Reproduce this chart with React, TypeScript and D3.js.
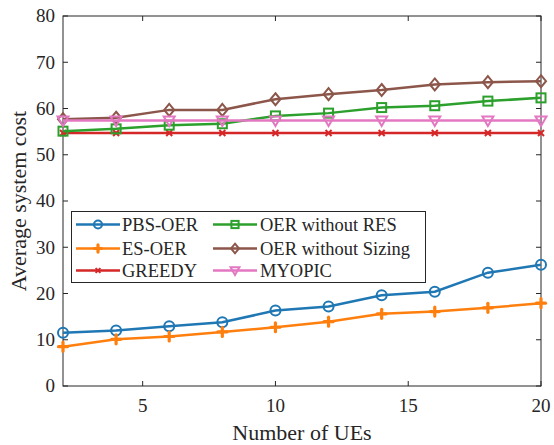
import React from "react";
import * as d3 from "d3";

const xs = [2, 4, 6, 8, 10, 12, 14, 16, 18, 20];
const pbsOer = [11.5, 12.0, 12.9, 13.8, 16.3, 17.2, 19.6, 20.4, 24.5, 26.2];
const esOer = [8.5, 10.1, 10.7, 11.7, 12.7, 13.9, 15.6, 16.1, 16.9, 17.9];
const greedy = [54.7, 54.7, 54.7, 54.7, 54.7, 54.7, 54.7, 54.7, 54.7, 54.7];
const oerNoRes = [55.1, 55.6, 56.4, 56.7, 58.4, 59.0, 60.2, 60.6, 61.6, 62.3];
const oerNoSizing = [57.7, 58.0, 59.7, 59.7, 62.0, 63.1, 64.0, 65.2, 65.7, 65.9];
const myopic = [57.4, 57.4, 57.4, 57.4, 57.4, 57.4, 57.4, 57.4, 57.4, 57.4];
const xTicks = [5, 10, 15, 20];
const yTicks = [0, 10, 20, 30, 40, 50, 60, 70, 80];

type Marker = "circle" | "plus" | "x" | "square" | "diamond" | "tri";
const series: { name: string; values: number[]; color: string; marker: Marker }[] = [
  { name: "PBS-OER", values: pbsOer, color: "#1f77b4", marker: "circle" },
  { name: "ES-OER", values: esOer, color: "#ff7f0e", marker: "plus" },
  { name: "GREEDY", values: greedy, color: "#d62728", marker: "x" },
  { name: "OER without RES", values: oerNoRes, color: "#2ca02c", marker: "square" },
  { name: "OER without Sizing", values: oerNoSizing, color: "#8c564b", marker: "diamond" },
  { name: "MYOPIC", values: myopic, color: "#e377c2", marker: "tri" },
];

function MarkerShape({ m, x, y, color, s = 1 }: { m: Marker; x: number; y: number; color: string; s?: number }) {
  const sw = 2;
  switch (m) {
    case "circle":
      return <circle cx={x} cy={y} r={5 * s} fill="none" stroke={color} strokeWidth={sw} />;
    case "plus":
      return (
        <g stroke={color} strokeWidth={3.2} strokeLinecap="round">
          <line x1={x - 4.5 * s} y1={y} x2={x + 4.5 * s} y2={y} />
          <line x1={x} y1={y - 4.5 * s} x2={x} y2={y + 4.5 * s} />
        </g>
      );
    case "x":
      return (
        <g stroke={color} strokeWidth={2}>
          <line x1={x - 3 * s} y1={y - 3 * s} x2={x + 3 * s} y2={y + 3 * s} />
          <line x1={x - 3 * s} y1={y + 3 * s} x2={x + 3 * s} y2={y - 3 * s} />
        </g>
      );
    case "square":
      return <rect x={x - 4.5 * s} y={y - 4.5 * s} width={9 * s} height={9 * s} fill="none" stroke={color} strokeWidth={sw} />;
    case "diamond":
      return (
        <path
          d={`M${x},${y - 6 * s}L${x + 5 * s},${y}L${x},${y + 6 * s}L${x - 5 * s},${y}Z`}
          fill="none"
          stroke={color}
          strokeWidth={sw}
        />
      );
    case "tri":
      return (
        <path
          d={`M${x - 5.5 * s},${y - 4 * s}L${x + 5.5 * s},${y - 4 * s}L${x},${y + 5.5 * s}Z`}
          fill="none"
          stroke={color}
          strokeWidth={sw}
        />
      );
  }
}

export default function App() {
  const W = 554, H = 445;
  const left = 63, right = 541, top = 16, bottom = 386;
  const x = d3.scaleLinear().domain([2, 20]).range([left, right]);
  const y = d3.scaleLinear().domain([0, 80]).range([bottom, top]);
  const line = d3
    .line<number>()
    .x((_, i) => x(xs[i]))
    .y((d) => y(d));
  const font = "'Liberation Serif', 'Times New Roman', serif";
  const axisColor = "#262626";
  const legendRows = [224.5, 248.5, 270.5];
  const legendCols = [{ l0: 76, l1: 120, t: 122 }, { l0: 213, l1: 257, t: 260 }];

  return (
    <svg width={W} height={H} style={{ position: "absolute", left: 0, top: 0 }} fontFamily={font}>
      <rect x={0} y={0} width={W} height={H} fill="white" />
      {/* ticks */}
      {xTicks.map((t) => (
        <g key={"xt" + t}>
          <line x1={x(t)} x2={x(t)} y1={bottom} y2={bottom - 5} stroke={axisColor} />
          <line x1={x(t)} x2={x(t)} y1={top} y2={top + 5} stroke={axisColor} />
          <text x={x(t)} y={bottom + 26} textAnchor="middle" fontSize={19} fill="#262626">
            {t}
          </text>
        </g>
      ))}
      {yTicks.map((t) => (
        <g key={"yt" + t}>
          <line x1={left} x2={left + 5} y1={y(t)} y2={y(t)} stroke={axisColor} />
          <line x1={right} x2={right - 5} y1={y(t)} y2={y(t)} stroke={axisColor} />
          <text x={left - 8} y={y(t) + 6.4} textAnchor="end" fontSize={19} fill="#262626">
            {t}
          </text>
        </g>
      ))}
      <rect x={left} y={top} width={right - left} height={bottom - top} fill="none" stroke={axisColor} strokeWidth={1} />
      {/* series */}
      {series.map((s) => (
        <g key={s.name}>
          <path d={line(s.values) || ""} fill="none" stroke={s.color} strokeWidth={2.5} />
          {s.values.map((v, i) => (
            <MarkerShape key={i} m={s.marker} x={x(xs[i])} y={y(v)} color={s.color} />
          ))}
        </g>
      ))}
      {/* legend */}
      <rect x={71.5} y={211.5} width={354} height={71} fill="white" stroke={axisColor} strokeWidth={1} />
      {series.map((s, i) => {
        const col = legendCols[Math.floor(i / 3)];
        const ry = legendRows[i % 3];
        return (
          <g key={"lg" + s.name}>
            <line x1={col.l0} x2={col.l1} y1={ry} y2={ry} stroke={s.color} strokeWidth={2.5} />
            <MarkerShape m={s.marker} x={(col.l0 + col.l1) / 2} y={ry} color={s.color} s={0.8} />
            <text x={col.t} y={ry + 6.3} fontSize={18.5} fill="#262626">
              {s.name}
            </text>
          </g>
        );
      })}
      {/* axis labels */}
      <text x={(left + right) / 2} y={440} textAnchor="middle" fontSize={22} fill="#262626">
        Number of UEs
      </text>
      <text transform={`translate(26,${201}) rotate(-90)`} textAnchor="middle" fontSize={22} fill="#262626">
        Average system cost
      </text>
    </svg>
  );
}
